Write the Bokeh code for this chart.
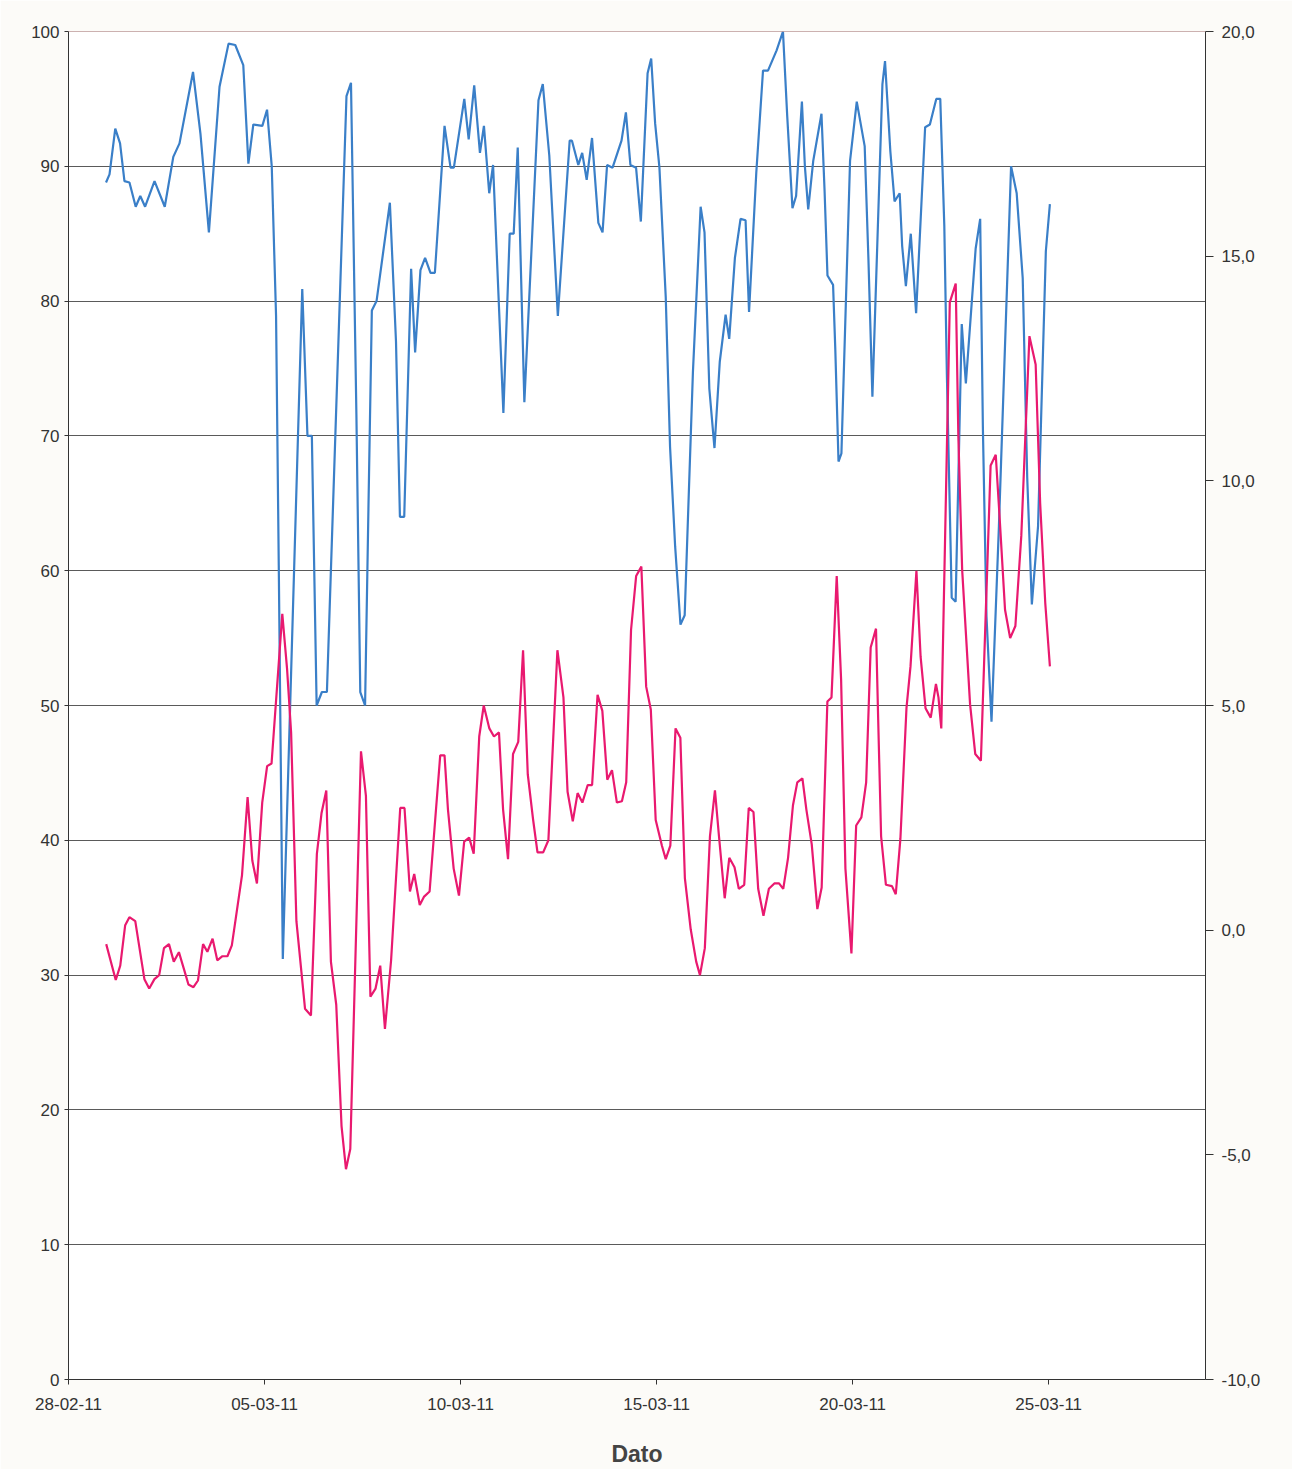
import pandas as pd
from bokeh.plotting import figure
from bokeh.models import (Range1d, LinearAxis, FixedTicker, CustomJSTickFormatter,
                          DatetimeTickFormatter, Span)
from bokeh.embed import file_html
from bokeh.resources import INLINE

# ---------------- data ----------------
base_date = "2011-02-28"
x_start = "2011-02-28"
x_end = "2011-03-29"
date_ticks = ["2011-02-28", "2011-03-05", "2011-03-10", "2011-03-15", "2011-03-20", "2011-03-25"]
left_ticks = [0, 10, 20, 30, 40, 50, 60, 70, 80, 90, 100]
right_ticks = [-10, -5, 0, 5, 10, 15, 20]

# humidity (left axis), time in days after 28-02-11
hum_t = [0.957, 1.046, 1.193, 1.315, 1.427, 1.555, 1.714, 1.831, 1.954, 2.194,
         2.455, 2.673, 2.831, 3.176, 3.366, 3.581, 3.852, 4.082, 4.253, 4.458,
         4.588, 4.714, 4.944, 5.064, 5.184, 5.294, 5.363, 5.466, 5.962, 6.095,
         6.207, 6.329, 6.463, 6.591, 7.090, 7.205, 7.343, 7.442, 7.564, 7.737,
         7.857, 8.197, 8.353, 8.453, 8.563, 8.739, 8.841, 8.977, 9.095, 9.233,
         9.345, 9.591, 9.744, 9.829, 10.095, 10.207, 10.348, 10.494, 10.596, 10.731,
         10.829, 11.092, 11.253, 11.355, 11.458, 11.627, 11.987, 12.097, 12.263, 12.481,
         12.783, 12.841, 13.003, 13.102, 13.217, 13.353, 13.514, 13.621, 13.737, 13.877,
         14.105, 14.217, 14.332, 14.476, 14.598, 14.770, 14.862, 14.962, 15.072, 15.233,
         15.343, 15.473, 15.609, 15.716, 15.926, 16.123, 16.222, 16.345, 16.476, 16.611,
         16.760, 16.852, 16.997, 17.141, 17.269, 17.358, 17.542, 17.714, 17.841, 18.061,
         18.223, 18.332, 18.465, 18.558, 18.706, 18.782, 18.867, 18.995, 19.205, 19.284,
         19.358, 19.501, 19.558, 19.640, 19.714, 19.934, 20.105, 20.307, 20.404, 20.504,
         20.760, 20.826, 20.962, 21.069, 21.200, 21.263, 21.358, 21.483, 21.619, 21.849,
         21.970, 22.133, 22.235, 22.338, 22.404, 22.527, 22.627, 22.783, 22.888, 23.138,
         23.253, 23.322, 23.414, 23.542, 23.731, 24.041, 24.184, 24.338, 24.453, 24.571,
         24.729, 24.928, 25.031]
hum_v = [88.8, 89.4, 92.8, 91.7, 88.9, 88.8, 87.0, 87.8, 87.0, 88.9,
         87.0, 90.7, 91.7, 97.0, 92.4, 85.1, 95.9, 99.1, 99.0, 97.5,
         90.2, 93.1, 93.0, 94.2, 90.0, 78.9, 60.4, 31.2, 80.9, 70.0,
         70.0, 50.0, 51.0, 51.0, 95.2, 96.2, 71.6, 51.0, 50.0, 79.3,
         80.0, 87.3, 77.0, 64.0, 64.0, 82.4, 76.2, 82.3, 83.2, 82.1,
         82.1, 93.0, 89.9, 89.9, 95.0, 92.0, 96.0, 91.0, 93.0, 88.0,
         90.1, 71.7, 85.0, 85.0, 91.4, 72.5, 94.9, 96.1, 90.8, 78.9,
         91.9, 91.9, 90.1, 91.0, 89.0, 92.1, 85.8, 85.1, 90.1, 89.9,
         91.9, 94.0, 90.1, 89.9, 85.9, 96.9, 98.0, 93.2, 89.9, 80.3,
         69.2, 61.8, 56.0, 56.7, 74.7, 87.0, 85.1, 73.5, 69.1, 75.5,
         79.0, 77.2, 83.2, 86.1, 86.0, 79.2, 89.5, 97.1, 97.1, 98.6,
         100.0, 93.7, 86.9, 87.8, 94.8, 90.0, 86.8, 90.4, 93.9, 88.2,
         81.9, 81.2, 76.4, 68.1, 68.7, 90.4, 94.8, 91.5, 83.0, 72.9,
         96.1, 97.8, 91.1, 87.4, 88.0, 84.1, 81.1, 85.0, 79.1, 92.9,
         93.1, 95.0, 95.0, 85.6, 74.5, 58.0, 57.7, 78.3, 73.9, 83.9,
         86.1, 70.6, 56.6, 48.8, 63.3, 90.0, 88.0, 81.7, 66.9, 57.5,
         63.3, 83.7, 87.2]

# temperature (right axis), time in days after 28-02-11
temp_t = [0.962, 1.205, 1.320, 1.446, 1.553, 1.703, 1.795, 1.936, 2.059, 2.192,
          2.313, 2.435, 2.563, 2.685, 2.816, 2.939, 3.059, 3.187, 3.302, 3.432,
          3.542, 3.675, 3.795, 3.926, 4.054, 4.166, 4.281, 4.425, 4.568, 4.688,
          4.806, 4.941, 5.066, 5.179, 5.453, 5.575, 5.678, 5.813, 6.033, 6.184,
          6.335, 6.453, 6.575, 6.693, 6.829, 6.964, 7.077, 7.187, 7.460, 7.586,
          7.701, 7.831, 7.951, 8.071, 8.228, 8.461, 8.570, 8.709, 8.818, 8.959,
          9.064, 9.210, 9.481, 9.591, 9.678, 9.824, 9.959, 10.092, 10.220, 10.335,
          10.476, 10.591, 10.734, 10.852, 10.980, 11.084, 11.210, 11.338, 11.471, 11.594,
          11.714, 11.847, 11.962, 12.107, 12.240, 12.470, 12.624, 12.729, 12.862, 12.985,
          13.107, 13.243, 13.355, 13.494, 13.616, 13.742, 13.862, 13.987, 14.115, 14.225,
          14.348, 14.478, 14.611, 14.734, 14.852, 14.977, 15.136, 15.233, 15.350, 15.483,
          15.606, 15.721, 15.870, 16.010, 16.106, 16.230, 16.361, 16.488, 16.591, 16.737,
          16.854, 16.987, 17.097, 17.235, 17.350, 17.471, 17.591, 17.726, 17.864, 18.003,
          18.123, 18.230, 18.353, 18.478, 18.588, 18.719, 18.819, 18.957, 19.100, 19.210,
          19.356, 19.461, 19.594, 19.706, 19.816, 19.969, 20.090, 20.223, 20.345, 20.460,
          20.596, 20.647, 20.726, 20.849, 21.003, 21.100, 21.218, 21.373, 21.476, 21.627,
          21.734, 21.859, 21.992, 22.125, 22.189, 22.261, 22.478, 22.629, 22.696, 22.793,
          22.995, 23.128, 23.271, 23.519, 23.650, 23.752, 23.887, 24.018, 24.151, 24.302,
          24.509, 24.668, 24.783, 24.913, 25.031]
temp_v = [-0.31, -1.11, -0.79, 0.11, 0.29, 0.20, -0.31, -1.09, -1.30, -1.09,
          -1.00, -0.40, -0.31, -0.70, -0.49, -0.85, -1.21, -1.27, -1.12, -0.31,
          -0.48, -0.19, -0.67, -0.58, -0.58, -0.34, 0.35, 1.22, 2.96, 1.55,
          1.04, 2.84, 3.65, 3.71, 7.04, 5.81, 4.40, 0.20, -1.75, -1.90,
          1.70, 2.60, 3.11, -0.70, -1.66, -4.36, -5.32, -4.87, 3.98, 2.99,
          -1.48, -1.30, -0.79, -2.20, -0.67, 2.72, 2.72, 0.86, 1.25, 0.56,
          0.74, 0.86, 3.89, 3.89, 2.69, 1.37, 0.77, 1.97, 2.06, 1.70,
          4.31, 5.00, 4.49, 4.31, 4.40, 2.69, 1.58, 3.92, 4.19, 6.23,
          3.47, 2.48, 1.73, 1.73, 2.00, 6.23, 5.18, 3.08, 2.42, 3.05,
          2.84, 3.23, 3.23, 5.24, 4.88, 3.35, 3.56, 2.84, 2.87, 3.29,
          6.68, 7.88, 8.09, 5.42, 4.91, 2.45, 1.88, 1.58, 1.88, 4.49,
          4.28, 1.16, 0.02, -0.70, -1.00, -0.40, 2.09, 3.11, 2.09, 0.71,
          1.61, 1.40, 0.92, 1.01, 2.72, 2.63, 0.92, 0.32, 0.92, 1.04,
          1.04, 0.92, 1.61, 2.78, 3.29, 3.38, 2.69, 1.91, 0.47, 0.95,
          5.09, 5.18, 7.88, 5.57, 1.37, -0.52, 2.33, 2.51, 3.29, 6.29,
          6.71, 4.85, 2.09, 1.01, 0.98, 0.80, 2.03, 4.94, 5.87, 8.00,
          6.08, 4.94, 4.73, 5.48, 5.18, 4.49, 13.97, 14.39, 11.00, 8.03,
          5.03, 3.92, 3.77, 10.34, 10.58, 9.14, 7.13, 6.50, 6.77, 8.78,
          13.22, 12.59, 9.50, 7.28, 5.87]

x_label = "Dato"

# ---------------- figure ----------------
FONT = "Liberation Sans"
base = pd.Timestamp(base_date)
hum_x = base + pd.to_timedelta(hum_t, unit="D")
temp_x = base + pd.to_timedelta(temp_t, unit="D")

p = figure(width=1292, height=1469, x_axis_type="datetime",
           output_backend="svg", toolbar_location=None,
           x_range=Range1d(pd.Timestamp(x_start), pd.Timestamp(x_end)),
           y_range=Range1d(0, 100),
           min_border_left=68, min_border_right=87,
           min_border_top=31, min_border_bottom=90)
p.extra_y_ranges = {"temp": Range1d(-10, 20)}

p.background_fill_color = "#ffffff"
p.border_fill_color = "#fcfbf8"
p.outline_line_color = None

p.xgrid.visible = False
p.ygrid.ticker = FixedTicker(ticks=left_ticks)
p.ygrid.grid_line_color = "#5a5a5a"
p.ygrid.grid_line_width = 1

p.add_layout(Span(location=100, dimension="width", line_color="#9a6464", line_width=1.2))

# left axis
p.yaxis.ticker = FixedTicker(ticks=left_ticks)
p.yaxis.major_label_text_font = FONT
p.yaxis.major_label_text_font_size = "17px"
p.yaxis.major_label_text_color = "#333333"
p.yaxis.axis_line_color = "#333333"
p.yaxis.major_tick_line_color = "#333333"
p.yaxis.major_tick_out = 4
p.yaxis.major_tick_in = 0
p.yaxis.minor_tick_line_color = None

# right axis
raxis = LinearAxis(y_range_name="temp",
                   ticker=FixedTicker(ticks=right_ticks),
                   formatter=CustomJSTickFormatter(code="return tick.toFixed(1).replace('.', ',');"))
raxis.major_label_text_font = FONT
raxis.major_label_text_font_size = "17px"
raxis.major_label_text_color = "#333333"
raxis.axis_line_color = "#333333"
raxis.major_tick_line_color = "#333333"
raxis.major_tick_out = 8
raxis.major_tick_in = 0
raxis.minor_tick_line_color = None
raxis.major_label_standoff = 8
p.add_layout(raxis, "right")

# bottom axis
tick_ms = [pd.Timestamp(d).value / 1e6 for d in date_ticks]
p.xaxis.ticker = FixedTicker(ticks=tick_ms)
fmt = "%d-%m-%y"
p.xaxis.formatter = DatetimeTickFormatter(days=fmt, months=fmt, years=fmt, hours=fmt,
                                          hourmin=fmt, minutes=fmt, minsec=fmt,
                                          seconds=fmt, milliseconds=fmt, microseconds=fmt)
p.xaxis.major_label_text_font = FONT
p.xaxis.major_label_text_font_size = "17px"
p.xaxis.major_label_text_color = "#333333"
p.xaxis.axis_line_color = "#333333"
p.xaxis.major_tick_line_color = "#333333"
p.xaxis.major_tick_out = 5
p.xaxis.major_tick_in = 0
p.xaxis.minor_tick_line_color = None
p.xaxis.major_label_standoff = 13
p.xaxis.axis_label = x_label
p.xaxis.axis_label_text_font = FONT
p.xaxis.axis_label_text_font_size = "23px"
p.xaxis.axis_label_text_font_style = "bold"
p.xaxis.axis_label_text_color = "#444444"
p.xaxis.axis_label_standoff = 28

# series
p.line(x=hum_x, y=hum_v, line_color="#3a7fc8", line_width=2.2)
p.line(x=temp_x, y=temp_v, y_range_name="temp", line_color="#e9196f", line_width=2.2)

open("out.html", "w").write(file_html(p, INLINE))
